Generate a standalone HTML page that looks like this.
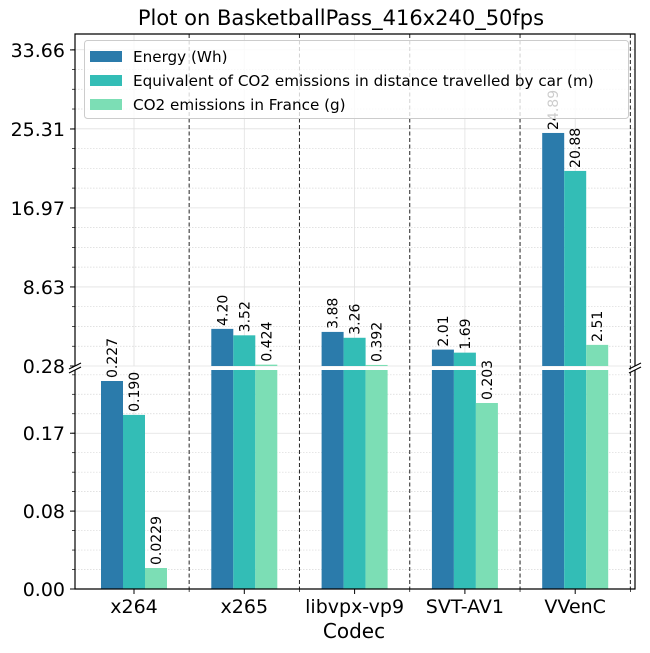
<!DOCTYPE html>
<html><head><meta charset="utf-8"><style>
body{margin:0;background:#fff;}
svg{display:block;font-family:"DejaVu Sans","Liberation Sans",sans-serif;}
</style></head><body>
<svg id="chart" width="650" height="653" viewBox="0 0 650 653" xmlns="http://www.w3.org/2000/svg">
<text x="341" y="25" font-size="21" text-anchor="middle" fill="#000">Plot on BasketballPass_416x240_50fps</text>
<text x="354" y="638" font-size="20" text-anchor="middle" fill="#000">Codec</text>
</svg>
<script>
const categories = ["x264","x265","libvpx-vp9","SVT-AV1","VVenC"];
const seriesNames = ["Energy (Wh)","Equivalent of CO2 emissions in distance travelled by car (m)","CO2 emissions in France (g)"];
const energy = [0.227, 4.20, 3.88, 2.01, 24.89];
const carDistance = [0.190, 3.52, 3.26, 1.69, 20.88];
const co2France = [0.0229, 0.424, 0.392, 0.203, 2.51];
const energyLabels = ["0.227","4.20","3.88","2.01","24.89"];
const carLabels = ["0.190","3.52","3.26","1.69","20.88"];
const franceLabels = ["0.0229","0.424","0.392","0.203","2.51"];
const topTicks = [0.28, 8.63, 16.97, 25.31, 33.66];
const topTickLabels = ["0.28","8.63","16.97","25.31","33.66"];
const bottomTicks = [0, 0.085, 0.17];
const bottomTickLabels = ["0.00","0.08","0.17"];

const NS="http://www.w3.org/2000/svg";
const svg=document.getElementById('chart');
const colors=["#2b7bab","#33bdb6","#7cdeb5"];
const L=75,R=635,TT=34,TB=366,BT=370,BB=589;
const topMin=0.28,topMax=35.34,botMin=0,botMax=0.239;
const xs=i=>134+110.3*i;
const yTop=v=>TB-(v-topMin)/(topMax-topMin)*(TB-TT);
const yBot=v=>BB-(v-botMin)/(botMax-botMin)*(BB-BT);
function mk(t,a,p){const e=document.createElementNS(NS,t);for(const k in a)e.setAttribute(k,a[k]);(p||svg).appendChild(e);return e;}

const grid=mk('g',{});


const tStep=topTicks[1]-topTicks[0];
for(let v=topMin;v<=topMax;v+=tStep/4){const y=yTop(v);const major=Math.abs(((v-topMin)/tStep)-Math.round((v-topMin)/tStep))<0.01;
 mk('line',{x1:L,x2:R,y1:y,y2:y,stroke:major?'#e0e0e0':'#d8d8d8','stroke-width':major?0.8:0.7,'stroke-dasharray':major?'':'1.5,1.5'},grid);}
const bStep=bottomTicks[1]-bottomTicks[0];
for(let v=0;v<=botMax;v+=bStep/4){const y=yBot(v);const major=Math.abs((v/bStep)-Math.round(v/bStep))<0.01;
 mk('line',{x1:L,x2:R,y1:y,y2:y,stroke:major?'#e0e0e0':'#d8d8d8','stroke-width':major?0.8:0.7,'stroke-dasharray':major?'':'1.5,1.5'},grid);}
categories.forEach((c,i)=>{mk('line',{x1:xs(i),x2:xs(i),y1:TT,y2:TB,stroke:'#e0e0e0','stroke-width':0.8},grid);mk('line',{x1:xs(i),x2:xs(i),y1:BT,y2:BB,stroke:'#e0e0e0','stroke-width':0.8},grid);});
categories.forEach((c,i)=>{const x=xs(i)+55.15;
 const d=mk('line',{x1:x,x2:x,y1:TT,y2:BB,stroke:'#222','stroke-width':1,'stroke-dasharray':'4,2.5'});
 
 });

const series=[energy,carDistance,co2France];
const labels=[energyLabels,carLabels,franceLabels];
const bw=22;
series.forEach((vals,s)=>{vals.forEach((v,i)=>{
 const x=xs(i)+(s-1)*bw-bw/2;
 const bv=Math.min(v,botMax);
 const b=mk('rect',{x:x,y:yBot(bv),width:bw,height:BB-yBot(bv),fill:colors[s]});
 
 
 if(v>topMin){const t=mk('rect',{x:x,y:yTop(v),width:bw,height:TB-yTop(v),fill:colors[s]});
  
  }
 const ly=(v>topMin?yTop(v):yBot(v))-3;
 const lx=x+bw/2+5;
 const tx=mk('text',{x:lx,y:ly,'font-size':14,fill:'#000',transform:`rotate(-90 ${lx} ${ly})`});
 tx.textContent=labels[s][i];
 
 
});});

const sp=mk('g',{fill:'none',stroke:'#000','stroke-width':1.2});


mk('path',{d:`M${L},${TB}V${TT}H${R}V${TB}`},sp);
mk('path',{d:`M${L},${BT}V${BB}H${R}V${BT}`},sp);
[[L,TB],[L,BT],[R,TB],[R,BT]].forEach(p=>mk('line',{x1:p[0]-6,y1:p[1]+3,x2:p[0]+6,y2:p[1]-3,'stroke-width':1.2},sp));

topTicks.forEach((v,i)=>{const y=yTop(v);mk('line',{x1:L-5,x2:L,y1:y,y2:y,stroke:'#000'});
 const t=mk('text',{x:L-10,y:y+7,'font-size':19,'text-anchor':'end',fill:'#000'});t.textContent=topTickLabels[i];
 
 });
for(let v=topMin;v<=topMax;v+=tStep/4){const y=yTop(v);mk('line',{x1:L-3,x2:L,y1:y,y2:y,stroke:'#000','stroke-width':0.7});}
bottomTicks.forEach((v,i)=>{const y=yBot(v);mk('line',{x1:L-5,x2:L,y1:y,y2:y,stroke:'#000'});
 const t=mk('text',{x:L-10,y:y+7,'font-size':19,'text-anchor':'end',fill:'#000'});t.textContent=bottomTickLabels[i];
 
 });
for(let v=0;v<=botMax;v+=bStep/4){const y=yBot(v);mk('line',{x1:L-3,x2:L,y1:y,y2:y,stroke:'#000','stroke-width':0.7});}
categories.forEach((c,i)=>{mk('line',{x1:xs(i),x2:xs(i),y1:BB,y2:BB+5,stroke:'#000'});
 mk('line',{x1:xs(i)+55.15,x2:xs(i)+55.15,y1:BB,y2:BB+3,stroke:'#000','stroke-width':0.7});
 const t=mk('text',{x:xs(i),y:BB+24,'font-size':19,'text-anchor':'middle',fill:'#000'});t.textContent=c;
 
 });

const lg=mk('g',{});


mk('rect',{x:84.5,y:40.5,width:544,height:78,rx:3,fill:'#fff','fill-opacity':0.8,stroke:'#ccc'},lg);
seriesNames.forEach((n,s)=>{const y=56+s*24;
 mk('rect',{x:90,y:y-5,width:32,height:11,fill:colors[s]},lg);
 const t=mk('text',{x:133,y:y+6,'font-size':15.2,fill:'#000'},lg);t.textContent=n;
 
 });
</script>
</body></html>
